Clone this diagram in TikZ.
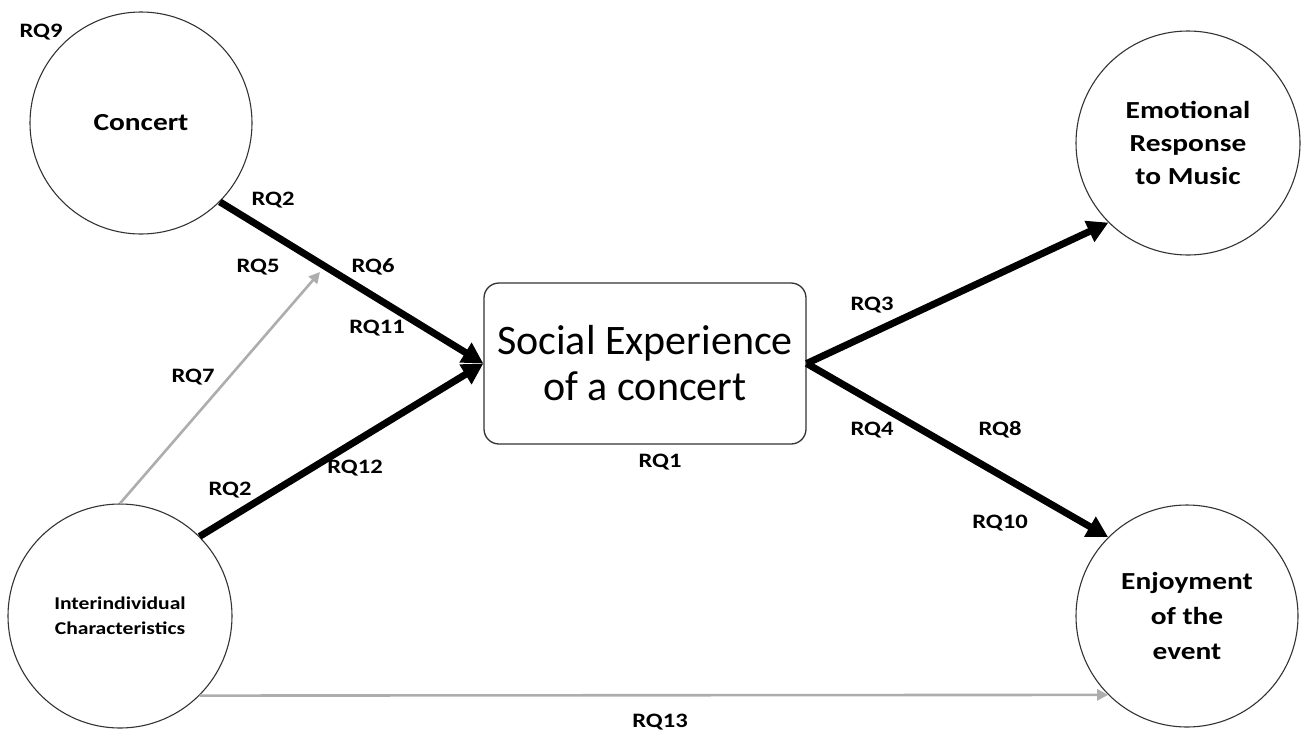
\documentclass[tikz,border=0pt]{standalone}
\usepackage{fontspec}
\setmainfont{Carlito}
\newfontfamily\widefont[FakeStretch=1.2]{Carlito}
\usetikzlibrary{arrows.meta}

\tikzset{
  factor/.style={circle, draw=black!80, line width=1.1pt, inner sep=0pt,
    align=center, font=\widefont\bfseries\fontsize{24.5}{33}\selectfont},
  hub/.style={draw=black!80, line width=1.3pt, rounded corners=15pt,
    minimum width=322pt, minimum height=161pt, align=center,
    font=\fontsize{42}{46}\selectfont},
  rq/.style={font=\widefont\bfseries\fontsize{20.5}{24}\selectfont, inner sep=0pt},
  strong/.style={line width=7pt, -{Triangle[length=21pt,width=22pt]}},
  weak/.style={line width=2.6pt, draw=black!32, -{Triangle[length=11pt,width=11pt]}}
}

\begin{document}
\begin{tikzpicture}[x=1pt, y=-1pt]
  \useasboundingbox (0,0) rectangle (1303,737);

  % outcome and predictor constructs
  \node[factor, minimum size=222pt] (concert) at (141,123) {Concert};
  \node[factor, minimum size=224pt] (emo) at (1188,143) {Emotional\\Response\\to Music};
  \node[factor, minimum size=224pt, font=\widefont\bfseries\fontsize{18}{25}\selectfont]
       (inter) at (120,616) {Interindividual\\Characteristics};
  \node[factor, minimum size=222pt, font=\widefont\bfseries\fontsize{24.5}{35}\selectfont]
       (enj) at (1187,616) {Enjoyment\\of the\\event};

  % central construct
  \node[hub] (hub) at (645,363.5) {Social Experience\\of a concert};

  % moderation target on the concert path
  \coordinate (mod) at (320,272);

  % paths
  \draw[weak] (inter.90) -- (mod);
  \draw[weak] (inter.-45) -- (enj.-135);
  \draw[strong] (concert.-45) -- (hub.west);
  \draw[strong] (inter.45) -- (hub.west);
  \draw[strong] (hub.east) -- (emo.-135);
  \draw[strong] (hub.east) -- (enj.135);

  % research question labels
  \node[rq] (rq9) at (41,32) {RQ9};
  \node[rq] (rq2a) at (273,200) {RQ2};
  \node[rq] (rq5) at (258,267) {RQ5};
  \node[rq] (rq6) at (373,267) {RQ6};
  \node[rq] (rq11) at (377,328) {RQ11};
  \node[rq] (rq7) at (193,377) {RQ7};
  \node[rq] (rq2b) at (230,490) {RQ2};
  \node[rq] (rq12) at (355,468) {RQ12};
  \node[rq] (rq1) at (660,462) {RQ1};
  \node[rq] (rq3) at (872,305) {RQ3};
  \node[rq] (rq4) at (872,430) {RQ4};
  \node[rq] (rq8) at (1000,430) {RQ8};
  \node[rq] (rq10) at (1000,523) {RQ10};
  \node[rq] (rq13) at (660,722) {RQ13};
\end{tikzpicture}
\end{document}
